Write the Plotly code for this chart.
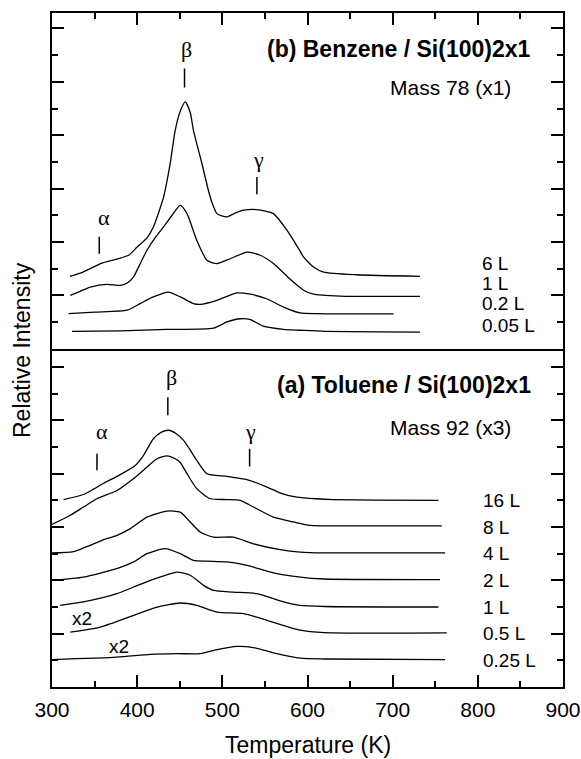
import plotly.graph_objects as go
from plotly.subplots import make_subplots

# ---------------- Data (temperature in K, intensity in offset units) ----------------
# (b) Benzene / Si(100)2x1  -- top panel
benz_6L_T = [321, 335, 345, 357, 375, 390, 400, 411.5, 419, 431, 438.8, 444.7, 450.6, 456.5, 462.3, 466, 476, 485.8, 493.7, 505.4, 515, 525, 540.6, 560, 575.8, 589.5, 595, 607, 619, 658, 732]
benz_6L_I = [2.71, 2.85, 3.0, 3.19, 3.35, 3.5, 3.81, 4.15, 4.56, 5.68, 6.94, 8.19, 8.9, 9.25, 8.85, 8.19, 6.94, 5.68, 5.06, 4.94, 5.08, 5.19, 5.21, 5.06, 4.44, 3.75, 3.45, 3.06, 2.87, 2.77, 2.71]
benz_1L_T = [321.5, 333, 345, 364.5, 380, 388, 395.8, 403, 411.5, 421, 431, 441, 450.6, 458.5, 470, 482, 493.7, 509.3, 528.9, 544.5, 560, 579.7, 595, 607, 638, 732]
benz_1L_I = [2.0, 2.15, 2.31, 2.41, 2.37, 2.45, 2.69, 3.15, 3.69, 4.15, 4.56, 5.0, 5.37, 5.06, 4.06, 3.31, 3.19, 3.37, 3.62, 3.5, 3.19, 2.6, 2.2, 2.04, 1.97, 1.96]
benz_02L_T = [319.5, 350, 388, 403.6, 419, 436.8, 450.6, 466, 474, 493.7, 517, 533, 552, 571.8, 591.4, 610, 650, 701]
benz_02L_I = [1.31, 1.37, 1.44, 1.69, 1.94, 2.12, 1.94, 1.69, 1.66, 1.81, 2.09, 2.04, 1.87, 1.56, 1.34, 1.31, 1.30, 1.30]
benz_005L_T = [323.5, 380, 435, 489.7, 505.4, 521, 533, 548, 571.8, 591, 620, 680, 732]
benz_005L_I = [0.65, 0.67, 0.72, 0.77, 1.0, 1.12, 1.09, 0.84, 0.72, 0.69, 0.65, 0.63, 0.62]

benz_labels = ["6 L", "1 L", "0.2 L", "0.05 L"]
benz_label_I = [3.19, 2.46, 1.69, 0.87]

# (a) Toluene / Si(100)2x1  -- bottom panel
tol_16L_T = [313.6, 337, 348.8, 360.6, 376.3, 397.8, 407.5, 419, 428, 436.8, 446, 454.5, 462, 470, 481.9, 505.4, 528.9, 552.4, 570, 587.6, 610, 630, 680, 753.7]
tol_16L_I = [7.03, 7.22, 7.42, 7.64, 7.9, 8.31, 8.69, 9.31, 9.55, 9.63, 9.5, 9.25, 8.9, 8.5, 8.0, 7.9, 7.78, 7.5, 7.25, 7.12, 7.06, 7.03, 7.01, 7.0]
tol_8L_T = [300, 321.5, 337, 352.8, 376.3, 397.8, 411.5, 423.2, 435, 444.7, 450.6, 458.5, 470, 485.8, 505.4, 521, 536.6, 560, 583.6, 603, 650, 757.7]
tol_8L_I = [6.1, 6.44, 6.75, 7.06, 7.37, 7.87, 8.25, 8.56, 8.67, 8.56, 8.42, 8.0, 7.44, 7.06, 7.03, 7.0, 6.75, 6.37, 6.19, 6.06, 6.04, 6.04]
tol_4L_T = [300, 325.4, 358.7, 376.3, 392, 411.5, 435, 450.6, 462, 474, 489.7, 513, 536.6, 567.9, 591.4, 620, 761.6]
tol_4L_I = [5.03, 5.08, 5.5, 5.69, 5.94, 6.37, 6.6, 6.56, 6.2, 5.81, 5.62, 5.62, 5.37, 5.15, 5.06, 5.03, 5.03]
tol_2L_T = [300, 337, 376, 395.8, 411.5, 433, 450.6, 466, 482, 505.4, 528.9, 560, 591.4, 620, 755.6]
tol_2L_I = [4.0, 4.12, 4.44, 4.69, 5.0, 5.19, 5.0, 4.75, 4.72, 4.69, 4.56, 4.28, 4.12, 4.05, 4.03]
tol_1L_T = [309.7, 337, 376.3, 395.8, 415.4, 433, 446.7, 462.3, 478, 489.7, 513, 540.6, 571.8, 591.4, 620, 753.7]
tol_1L_I = [3.06, 3.19, 3.5, 3.75, 4.0, 4.19, 4.31, 4.19, 3.81, 3.62, 3.56, 3.5, 3.19, 3.06, 3.02, 3.0]
tol_05L_T = [321.5, 356.7, 395.8, 423.2, 450.6, 470, 493.7, 524.9, 552.4, 591.4, 620, 763.6]
tol_05L_I = [2.06, 2.25, 2.69, 3.0, 3.15, 3.06, 2.81, 2.75, 2.5, 2.13, 2.04, 2.03]
tol_025L_T = [300, 376.3, 415.4, 446.7, 474, 493.7, 517, 536.6, 564, 591.4, 620, 761.6]
tol_025L_I = [1.03, 1.12, 1.22, 1.25, 1.25, 1.4, 1.52, 1.48, 1.25, 1.08, 1.05, 1.03]

tol_labels = ["16 L", "8 L", "4 L", "2 L", "1 L", "0.5 L", "0.25 L"]
tol_label_I = [7, 6, 5, 4, 3, 2, 1]

# Scale-factor notes on the toluene traces: (text, T, I)
tol_notes = [("x2", 335.2, 2.56), ("x2", 378.2, 1.53)]

# Peak markers: (symbol, label T, label I, tick T, tick I bottom, tick I top)
benz_peaks = [("α", 360.6, 4.9, 355.5, 3.56, 4.19),
              ("β", 458.4, 11.2, 455.6, 9.79, 10.5),
              ("γ", 542.5, 7.1, 540.6, 5.79, 6.43)]
tol_peaks = [("α", 358.6, 9.6, 352.8, 8.13, 8.75),
             ("β", 440.8, 11.6, 436.0, 10.19, 10.87),
             ("γ", 532.7, 9.6, 532.0, 8.27, 8.94)]

x_ticks = [300, 400, 500, 600, 700, 800, 900]

# ---------------- Figure ----------------
fig = make_subplots(rows=2, cols=1, shared_xaxes=True, vertical_spacing=0,
                    row_heights=[0.498, 0.502])

line_style = dict(color="black", width=1.3, shape="spline", smoothing=0.6)

for T, I in [(benz_6L_T, benz_6L_I), (benz_1L_T, benz_1L_I),
             (benz_02L_T, benz_02L_I), (benz_005L_T, benz_005L_I)]:
    fig.add_trace(go.Scatter(x=T, y=I, mode="lines", line=line_style,
                             hoverinfo="skip"), row=1, col=1)

for T, I in [(tol_16L_T, tol_16L_I), (tol_8L_T, tol_8L_I), (tol_4L_T, tol_4L_I),
             (tol_2L_T, tol_2L_I), (tol_1L_T, tol_1L_I), (tol_05L_T, tol_05L_I),
             (tol_025L_T, tol_025L_I)]:
    fig.add_trace(go.Scatter(x=T, y=I, mode="lines", line=line_style,
                             hoverinfo="skip"), row=2, col=1)

FONT = "Liberation Sans, Arial, Helvetica, sans-serif"
SERIF = "Liberation Serif, Times New Roman, serif"

ann = []
for lab, yv in zip(benz_labels, benz_label_I):
    ann.append(dict(x=802, y=yv, xref="x", yref="y", text=lab, showarrow=False,
                    xanchor="left", yanchor="middle", font=dict(size=19, family=FONT)))
for lab, yv in zip(tol_labels, tol_label_I):
    ann.append(dict(x=804, y=yv, xref="x2", yref="y2", text=lab, showarrow=False,
                    xanchor="left", yanchor="middle", font=dict(size=19, family=FONT)))

ann.append(dict(x=865, y=11.22, xref="x", yref="y", text="<b>(b) Benzene / Si(100)2x1</b>",
                showarrow=False, xanchor="right", yanchor="middle", font=dict(size=23, family=FONT)))
ann.append(dict(x=841, y=9.79, xref="x", yref="y", text="Mass 78 (x1)",
                showarrow=False, xanchor="right", yanchor="middle", font=dict(size=21, family=FONT)))
ann.append(dict(x=865, y=11.31, xref="x2", yref="y2", text="<b>(a) Toluene / Si(100)2x1</b>",
                showarrow=False, xanchor="right", yanchor="middle", font=dict(size=23, family=FONT)))
ann.append(dict(x=841, y=9.75, xref="x2", yref="y2", text="Mass 92 (x3)",
                showarrow=False, xanchor="right", yanchor="middle", font=dict(size=21, family=FONT)))

for txt, tx, ty in tol_notes:
    ann.append(dict(x=tx, y=ty, xref="x2", yref="y2", text=txt, showarrow=False,
                    xanchor="center", yanchor="middle", font=dict(size=19, family=FONT)))

shapes = []
for peaks, xr, yr in [(benz_peaks, "x", "y"), (tol_peaks, "x2", "y2")]:
    for sym, lx, ly, tx, y0, y1 in peaks:
        ann.append(dict(x=lx, y=ly, xref=xr, yref=yr, text=sym, showarrow=False,
                        xanchor="center", yanchor="middle", font=dict(size=22, family=SERIF)))
        shapes.append(dict(type="line", xref=xr, yref=yr, x0=tx, x1=tx, y0=y0, y1=y1,
                           line=dict(color="black", width=1.5)))

ann.append(dict(x=-0.0587, y=0.5, xref="paper", yref="paper", text="Relative Intensity",
                textangle=-90, showarrow=False, xanchor="center", yanchor="middle",
                font=dict(size=23, family=FONT)))
ann.append(dict(x=0.5, y=-0.086, xref="paper", yref="paper", text="Temperature (K)",
                showarrow=False, xanchor="center", yanchor="middle",
                font=dict(size=23, family=FONT)))

fig.update_layout(
    width=581, height=759,
    margin=dict(l=52, r=18, t=13, b=72, autoexpand=False),
    plot_bgcolor="white", paper_bgcolor="white",
    showlegend=False,
    font=dict(family=FONT, size=21, color="black"),
    annotations=ann, shapes=shapes,
)

common_x = dict(range=[300, 900], showgrid=False, zeroline=False, showline=True,
                linecolor="black", linewidth=1.6, ticks="inside",
                ticklen=12, tickwidth=1.5, tickcolor="black",
                tickvals=x_ticks, automargin=False,
                minor=dict(ticks="inside", ticklen=6, tickwidth=1.5, dtick=50,
                           tick0=300, tickcolor="black", showgrid=False))
fig.update_xaxes(**common_x)
fig.update_xaxes(side="top", mirror=True, showticklabels=False, row=1, col=1)
fig.update_xaxes(mirror=False, showticklabels=True, ticktext=[str(v) for v in x_ticks],
                 tickfont=dict(size=21, family=FONT), ticklabelstandoff=3,
                 row=2, col=1)

common_y = dict(showgrid=False, zeroline=False, showline=True, linecolor="black",
                linewidth=1.6, mirror="allticks", ticks="inside", ticklen=12,
                tickwidth=1.5, tickcolor="black", dtick=2, tick0=0,
                showticklabels=False, automargin=False,
                minor=dict(ticks="inside", ticklen=6, tickwidth=1.5, dtick=1,
                           tick0=0, tickcolor="black", showgrid=False))
fig.update_yaxes(**common_y)
fig.update_yaxes(range=[0, 12.58], row=1, col=1)
fig.update_yaxes(range=[0, 12.69], row=2, col=1)

# remove the default page margin so the figure sits at the window's top-left corner
fig.write_html("out.html", config={"displayModeBar": False},
               post_script="document.body.style.margin='0';document.body.style.overflow='hidden';")
